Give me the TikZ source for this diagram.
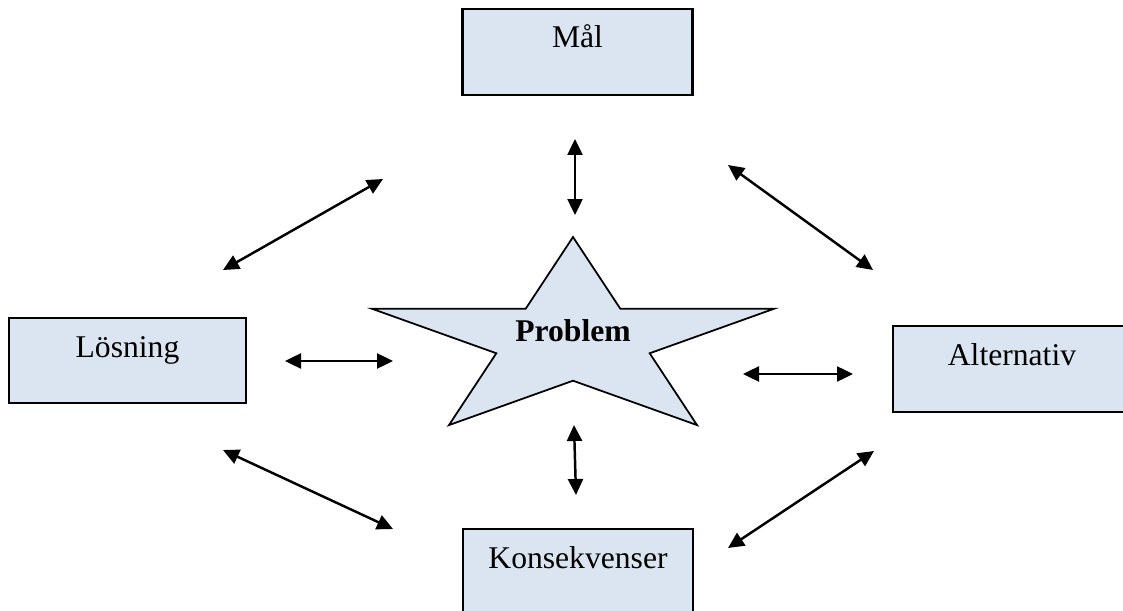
\documentclass[tikz,border=0pt]{standalone}
\usepackage{fontspec}
\setmainfont{Liberation Serif}
\usepackage{xcolor}
\usetikzlibrary{arrows.meta,positioning,shapes.geometric,calc}
\definecolor{boxblue}{RGB}{219,229,241}

\begin{document}
\begin{tikzpicture}[
x=0.02cm, y=-0.02cm,
box/.style={draw, line width=1.5pt, fill=boxblue, minimum width=4.6cm, minimum height=1.72cm, inner sep=0pt},
lbl/.style={anchor=base, font=\fontsize{18}{20}\selectfont},
arr/.style={{Triangle[length=0.32cm,width=0.3cm]}-{Triangle[length=0.32cm,width=0.3cm]}, line width=1.4pt}
]
\useasboundingbox (0,0) rectangle (1123,611);

% boxes
\node[box] (mal) at (577.5,52) {};
\node[box, minimum width=4.74cm, minimum height=1.7cm] (losning) at (127.5,360.5) {};
\node[box, minimum width=4.76cm] (alternativ) at (1012,369) {};
\node[box] (konsekvenser) at (578,572) {};

\node[lbl] (malText) at ($(mal.north)+(0,40)$) {Mål};
\node[lbl] (losningText) at ($(losning.north)+(0,41)$) {Lösning};
\node[lbl] (alternativText) at ($(alternativ.north)+(0,41)$) {Alternativ};
\node[lbl] (konsekvenserText) at ($(konsekvenser.north)+(0,41)$) {Konsekvenser};

% star
\begin{scope}[shift={(573,341)}, xscale=2.03]
\node[star, star points=5, star point ratio=2.618, minimum size=4.16cm, inner sep=0pt,
      draw, line width=1pt, fill=boxblue, transform shape] (star) at (0,0) {};
\end{scope}
\node[lbl] (problem) at (573,341) {\textbf{Problem}};

% arrow ends
\coordinate (n1) at (575,139);  \coordinate (n2) at (575,215);
\coordinate (ne1) at (728,165); \coordinate (ne2) at (873,270);
\coordinate (w1) at (285,361);  \coordinate (w2) at (393,361);
\coordinate (e1) at (743,374);  \coordinate (e2) at (853,374);
\coordinate (sw1) at (223,450); \coordinate (sw2) at (393,529);
\coordinate (se1) at (874,451); \coordinate (se2) at (728,548);
\coordinate (s1) at (574,425);  \coordinate (s2) at (576,495);
\coordinate (nw1) at (223,270); \coordinate (nw2) at (383,179);

\draw[arr] (n1) -- (n2);
\draw[arr] (ne1) -- (ne2);
\draw[arr] (w1) -- (w2);
\draw[arr] (e1) -- (e2);
\draw[arr] (sw1) -- (sw2);
\draw[arr] (se1) -- (se2);
\draw[arr] (s1) -- (s2);
\draw[arr] (nw1) -- (nw2);
\end{tikzpicture}
\end{document}
